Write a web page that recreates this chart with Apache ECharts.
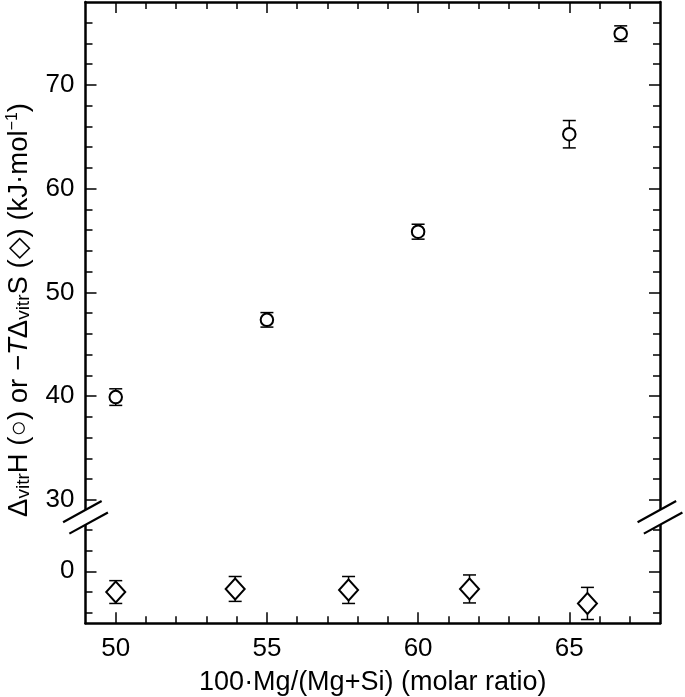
<!DOCTYPE html>
<html>
<head>
<meta charset="utf-8">
<title>vitrification enthalpy / entropy</title>
<script src="https://cdn.jsdelivr.net/npm/echarts@6/dist/echarts.min.js"></script>
<style>
  html, body { margin: 0; padding: 0; background: #fff; }
  #main { width: 685px; height: 697px; }
</style>
</head>
<body>
<div id="main"></div>
<script>
// data
var circleX = [50, 55, 60, 65, 66.7];
var circleY = [39.9, 47.35, 55.85, 65.25, 74.95];
var circleErr = [0.8, 0.7, 0.72, 1.32, 0.75];

var diamondX = [50, 53.95, 57.7, 61.7, 65.6];
var diamondY = [-2.0, -1.7, -1.8, -1.7, -3.1];
var diamondErr = [1.1, 1.2, 1.3, 1.35, 1.55];

// ticks
var xMajor = [50, 55, 60, 65];
var xMinor = [51, 52, 53, 54, 56, 57, 58, 59, 61, 62, 63, 64, 66, 67];
var topMajor = [30, 40, 50, 60, 70];
var topMinor = [32, 34, 36, 38, 42, 44, 46, 48, 52, 54, 56, 58, 62, 64, 66, 68, 72, 74, 76];
var botMajor = [0];
var botMinor = [-4, -2, 2, 4];

// layout
var xMin = 49, xMax = 68;
var topMin = 28.4, topMax = 78, botMin = -5, botMax = 5.3;
var pxPerUnit = 10.37;
var plotLeft = 85.5, plotWidth = 574.5, plotTop = 2;
var topH = (topMax - topMin) * pxPerUnit;
var botH = (botMax - botMin) * pxPerUnit;
var breakY = plotTop + topH;

var font = "'Liberation Sans', Arial, Helvetica, sans-serif";
var black = '#000';

function zip3(a, b, c) {
  var out = [];
  for (var i = 0; i < a.length; i++) out.push([a[i], b[i], c[i]]);
  return out;
}

function errBar(params, api) {
  var x = api.value(0), y = api.value(1), e = api.value(2);
  var hi = api.coord([x, y + e]);
  var lo = api.coord([x, y - e]);
  var hw = 6.5;
  var st = { stroke: black, lineWidth: 1.5 };
  return {
    type: 'group',
    children: [
      { type: 'line', shape: { x1: hi[0], y1: hi[1], x2: lo[0], y2: lo[1] }, style: st },
      { type: 'line', shape: { x1: hi[0] - hw, y1: hi[1], x2: hi[0] + hw, y2: hi[1] }, style: st },
      { type: 'line', shape: { x1: lo[0] - hw, y1: lo[1], x2: lo[0] + hw, y2: lo[1] }, style: st }
    ]
  };
}

function xAx(grid, pos, ticks, len, withLine, withLabels) {
  var ax = {
    type: 'value', gridIndex: grid, position: pos, min: xMin, max: xMax,
    splitLine: { show: false },
    axisLine: { show: withLine, onZero: false, lineStyle: { color: black, width: 2.5 } },
    axisTick: { show: true, inside: true, length: len, customValues: ticks, lineStyle: { color: black, width: 1.5 } },
    axisLabel: { show: false }
  };
  if (withLabels) {
    ax.axisLabel = { show: true, customValues: ticks, color: black, fontSize: 26, fontFamily: font, margin: 13 };
    ax.name = '100\u00b7Mg/(Mg+Si) (molar ratio)';
    ax.nameLocation = 'middle';
    ax.nameGap = 46;
    ax.nameTextStyle = { color: black, fontSize: 27, fontFamily: font };
  }
  return ax;
}

function yAx(grid, pos, mn, mx, ticks, len, withLine, withLabels) {
  var ax = {
    type: 'value', gridIndex: grid, position: pos, min: mn, max: mx,
    splitLine: { show: false },
    axisLine: { show: withLine, onZero: false, lineStyle: { color: black, width: 2.5 } },
    axisTick: { show: true, inside: true, length: len, customValues: ticks, lineStyle: { color: black, width: 1.5 } },
    axisLabel: { show: false }
  };
  if (withLabels) {
    ax.axisLabel = { show: true, customValues: ticks, color: black, fontSize: 26, fontFamily: font, margin: 11 };
  }
  return ax;
}

// break marks (two parallel slashes on each side, white gap between)
function breakMarks(cx, cy) {
  var th = Math.atan(0.55);
  var dx = Math.cos(th), dy = -Math.sin(th);
  var nx = Math.sin(th), ny = Math.cos(th);
  var half = 22, off = 6.5;
  function seg(s) {
    var mx = cx + s * off * nx, my = cy + s * off * ny;
    return [[mx - half * dx, my - half * dy], [mx + half * dx, my + half * dy]];
  }
  var a = seg(-1), b = seg(1);
  return [
    { type: 'polygon', z: 100, shape: { points: [a[0], a[1], b[1], b[0]] }, style: { fill: '#fff' } },
    { type: 'line', z: 101, shape: { x1: a[0][0], y1: a[0][1], x2: a[1][0], y2: a[1][1] }, style: { stroke: black, lineWidth: 2.2 } },
    { type: 'line', z: 101, shape: { x1: b[0][0], y1: b[0][1], x2: b[1][0], y2: b[1][1] }, style: { stroke: black, lineWidth: 2.2 } }
  ];
}

var chart = echarts.init(document.getElementById('main'), null, { renderer: 'canvas' });

var graphics = breakMarks(plotLeft, breakY + 1).concat(breakMarks(plotLeft + plotWidth, breakY + 1));
graphics.push({
  type: 'text', z: 100,
  x: 19, y: 310, rotation: Math.PI / 2,
  style: {
    text: '\u0394{sub|vitr}H (\u25cb) or \u2212{i|T}\u0394{sub|vitr}S (\u25c7) (kJ\u00b7mol{sup|\u22121})',
    fontSize: 27.5, fontFamily: font, fill: black,
    align: 'center', verticalAlign: 'middle',
    rich: {
      sub: { fontSize: 19, fontFamily: font, fill: black, lineHeight: 19, padding: [15, 0, 0, 0], verticalAlign: 'bottom' },
      sup: { fontSize: 16, fontFamily: font, fill: black, lineHeight: 16, verticalAlign: 'top' },
      i: { fontSize: 27.5, fontFamily: font, fontStyle: 'italic', fill: black }
    }
  }
});

chart.setOption({
  animation: false,
  backgroundColor: '#fff',
  grid: [
    { left: plotLeft, width: plotWidth, top: plotTop, height: topH, outerBoundsMode: 'none' },
    { left: plotLeft, width: plotWidth, top: breakY, height: botH, outerBoundsMode: 'none' }
  ],
  xAxis: [
    xAx(0, 'top', xMajor, 11, true, false),
    xAx(0, 'top', xMinor, 7, false, false),
    xAx(1, 'bottom', xMajor, 11, true, true),
    xAx(1, 'bottom', xMinor, 7, false, false)
  ],
  yAxis: [
    yAx(0, 'left', topMin, topMax, topMajor, 11, true, true),
    yAx(0, 'left', topMin, topMax, topMinor, 7, false, false),
    yAx(0, 'right', topMin, topMax, topMajor, 11, true, false),
    yAx(0, 'right', topMin, topMax, topMinor, 7, false, false),
    yAx(1, 'left', botMin, botMax, botMajor, 11, true, true),
    yAx(1, 'left', botMin, botMax, botMinor, 7, false, false),
    yAx(1, 'right', botMin, botMax, botMajor, 11, true, false),
    yAx(1, 'right', botMin, botMax, botMinor, 7, false, false)
  ],
  graphic: graphics,
  series: [
    {
      type: 'custom', xAxisIndex: 0, yAxisIndex: 0,
      renderItem: errBar, data: zip3(circleX, circleY, circleErr), z: 2
    },
    {
      type: 'scatter', xAxisIndex: 0, yAxisIndex: 0, symbol: 'circle', symbolSize: 12.5,
      itemStyle: { color: '#fff', borderColor: black, borderWidth: 2, opacity: 1 },
      data: circleX.map(function (x, i) { return [x, circleY[i]]; }), z: 3
    },
    {
      type: 'custom', xAxisIndex: 2, yAxisIndex: 4,
      renderItem: errBar, data: zip3(diamondX, diamondY, diamondErr), z: 2
    },
    {
      type: 'scatter', xAxisIndex: 2, yAxisIndex: 4, symbol: 'diamond', symbolSize: [19, 21],
      itemStyle: { color: '#fff', borderColor: black, borderWidth: 2, opacity: 1 },
      data: diamondX.map(function (x, i) { return [x, diamondY[i]]; }), z: 3
    }
  ]
});
</script>
</body>
</html>
